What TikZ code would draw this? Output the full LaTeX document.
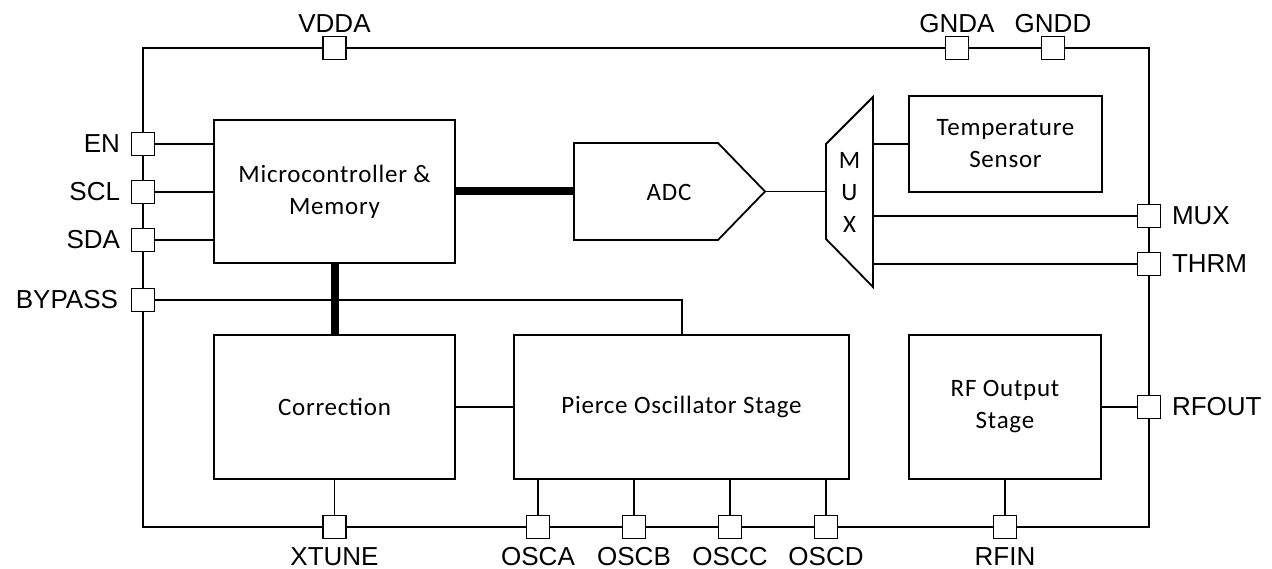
\documentclass[tikz,border=0pt]{standalone}
\usepackage{fontspec}
\setmainfont{Liberation Sans}
\newfontfamily\boxfont[LetterSpace=3]{Carlito}
\usetikzlibrary{calc}
\begin{document}
\begin{tikzpicture}[x=1pt,y=-1pt,
  pinbox/.style={draw, line width=1.6pt, fill=white, minimum size=23pt, inner sep=0pt, outer sep=0pt},
  blk/.style={draw, line width=1.8pt, inner sep=0pt, outer sep=0pt, align=center,
    font=\boxfont\fontsize{25}{32}\selectfont},
  wire/.style={line width=1.8pt},
  frame/.style={line width=2pt},
  bus/.style={line width=8pt},
  lbl/.style={font=\fontsize{26}{30}\selectfont, inner sep=0pt, outer sep=0pt},
  blktxt/.style={font=\boxfont\fontsize{25}{32}\selectfont, inner sep=0pt, align=center}
]
\useasboundingbox (0,0) rectangle (1272,569);

% frame corners
\coordinate (tl) at (143,48);
\coordinate (tr) at (1149,48);
\coordinate (br) at (1149,527);
\coordinate (bl) at (143,527);
\draw[frame] (tl) -- (tr) -- (br) -- (bl) -- cycle;

% blocks
\node[blk, minimum width=241pt, minimum height=143pt] (mcu) at (334.5,191.5) {Microcontroller \&\\Memory};
\node[blk, minimum width=241pt, minimum height=144pt] (corr) at (334.5,407) {Correction};
\node[blk, minimum width=335pt, minimum height=144pt] (osc) at (681.5,407) {Pierce Oscillator Stage};
\node[blk, minimum width=192pt, minimum height=144pt] (rf) at (1005,407) {RF Output\\Stage};
\node[blk, minimum width=193pt, minimum height=96pt] (temp) at (1005.5,144) {Temperature\\Sensor};

% ADC shape
\coordinate (adcL) at (574,191.5);
\coordinate (adcT) at (765,191.5);
\draw[wire] (574,143) -- (718,143) -- (adcT) -- (718,240) -- (574,240) -- cycle;
\node[blktxt] (adc) at (669,192) {ADC};

% MUX shape
\coordinate (muxL) at (826,191.5);
\draw[wire] (826,144) -- (873,97) -- (873,287) -- (826,239) -- cycle;
\node[blktxt] (mux) at (849.5,192) {M\\U\\X};
\coordinate (muxR1) at (873,144);
\coordinate (muxR2) at (873,216);
\coordinate (muxR3) at (873,264);

% wires (drawn before pins)
\coordinate (byc) at (682,300);
\draw[wire] (143,144) -- (mcu.west |- 0,144);
\draw[wire] (143,192) -- (mcu.west |- 0,192);
\draw[wire] (143,240) -- (mcu.west |- 0,240);
\draw[wire] (143,300) -- (byc) -- (osc.north -| byc);
\draw[bus] (mcu.south) -- (corr.north);
\draw[bus] (mcu.east) -- (adcL);
\draw[wire] (adcT) -- (muxL);
\draw[wire] (muxR1) -- (temp.west);
\draw[wire] (muxR2) -- (1149,216);
\draw[wire] (muxR3) -- (1149,264);
\draw[wire] (corr.east) -- (osc.west);
\draw[wire] (rf.east) -- (1149,407);
\draw[wire] (corr.south) -- (334.5,527);
\draw[wire] (538,479) -- (538,527);
\draw[wire] (634,479) -- (634,527);
\draw[wire] (730,479) -- (730,527);
\draw[wire] (826,479) -- (826,527);
\draw[wire] (rf.south) -- (1005,527);

% pins
\node[pinbox] (pVDDA) at (334.5,48) {};
\node[pinbox] (pGNDA) at (957,48) {};
\node[pinbox] (pGNDD) at (1053,48) {};
\node[pinbox] (pEN) at (143,144) {};
\node[pinbox] (pSCL) at (143,192) {};
\node[pinbox] (pSDA) at (143,240) {};
\node[pinbox] (pBYP) at (143,300) {};
\node[pinbox] (pMUX) at (1149,216) {};
\node[pinbox] (pTHRM) at (1149,264) {};
\node[pinbox] (pRFOUT) at (1149,407) {};
\node[pinbox] (pXTUNE) at (334.5,527) {};
\node[pinbox] (pOSCA) at (538,527) {};
\node[pinbox] (pOSCB) at (634,527) {};
\node[pinbox] (pOSCC) at (730,527) {};
\node[pinbox] (pOSCD) at (826,527) {};
\node[pinbox] (pRFIN) at (1005,527) {};

% labels
\node[lbl, anchor=base] (lVDDA) at (334.5,33) {VDDA};
\node[lbl, anchor=base] (lGNDA) at (957,33) {GNDA};
\node[lbl, anchor=base] (lGNDD) at (1053,33) {GNDD};
\node[lbl, anchor=east] (lEN) at (120,144) {EN};
\node[lbl, anchor=east] (lSCL) at (120,192) {SCL};
\node[lbl, anchor=east] (lSDA) at (120,240) {SDA};
\node[lbl, anchor=east] (lBYP) at (118,300) {BYPASS};
\node[lbl, anchor=west] (lMUX) at (1172,216) {MUX};
\node[lbl, anchor=west] (lTHRM) at (1172,264) {THRM};
\node[lbl, anchor=west] (lRFOUT) at (1172,407) {RFOUT};
\node[lbl, anchor=base] (lXTUNE) at (334.5,565) {XTUNE};
\node[lbl, anchor=base] (lOSCA) at (538,565) {OSCA};
\node[lbl, anchor=base] (lOSCB) at (634,565) {OSCB};
\node[lbl, anchor=base] (lOSCC) at (730,565) {OSCC};
\node[lbl, anchor=base] (lOSCD) at (826,565) {OSCD};
\node[lbl, anchor=base] (lRFIN) at (1005,565) {RFIN};
\end{tikzpicture}
\end{document}
